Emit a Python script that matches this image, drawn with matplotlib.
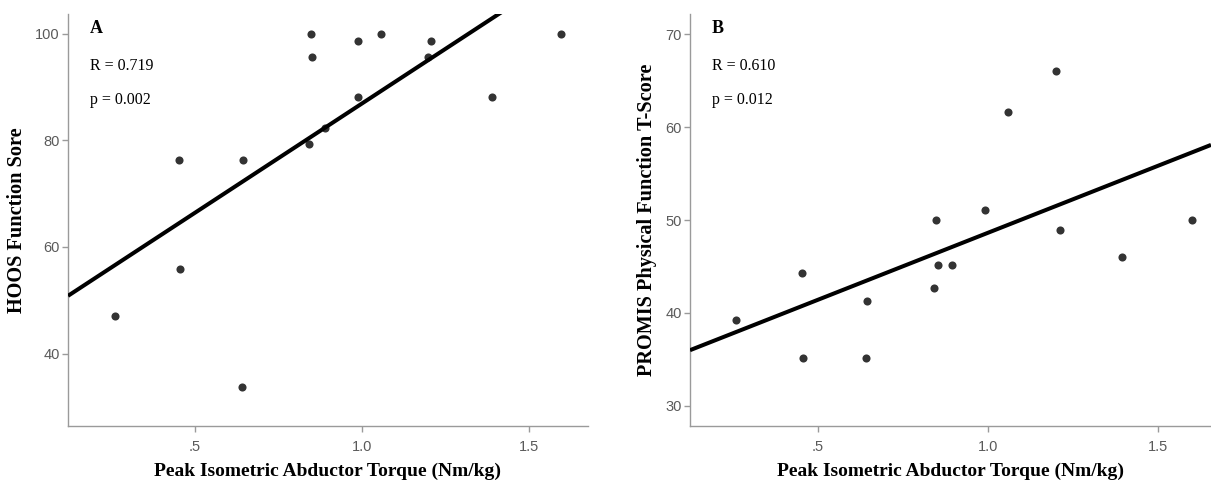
import matplotlib
matplotlib.use("Agg")
import matplotlib.pyplot as plt
import numpy as np

# ---- data ----
torque_a = [0.260, 0.452, 0.456, 0.645, 0.642, 0.847, 0.851, 0.841, 0.890,
            0.987, 0.988, 1.057, 1.208, 1.198, 1.391, 1.596]
hoos = [47.0, 76.4, 55.9, 76.4, 33.8, 100.0, 95.6, 79.3, 82.4,
        98.6, 88.2, 100.0, 98.6, 95.6, 88.2, 100.0]

torque_b = [0.259, 0.453, 0.456, 0.645, 0.642, 0.847, 0.852, 0.841, 0.893,
            0.990, 1.060, 1.200, 1.212, 1.393, 1.600]
promis = [39.2, 44.3, 35.1, 41.3, 35.1, 50.0, 45.2, 42.7, 45.2,
          51.1, 61.65, 66.1, 48.9, 46.05, 50.0]

fit_a = (41.0, 45.9)     # slope, intercept
fit_b = (14.44, 34.18)

x_ticks = [0.5, 1.0, 1.5]
x_tick_labels = [".5", "1.0", "1.5"]
y_ticks_a = [40, 60, 80, 100]
y_ticks_b = [30, 40, 50, 60, 70]

stats_a = ("A", "R = 0.719", "p = 0.002")
stats_b = ("B", "R = 0.610", "p = 0.012")
xlabel = "Peak Isometric Abductor Torque (Nm/kg)"
ylabel_a = "HOOS Function Sore"
ylabel_b = "PROMIS Physical Function T-Score"

W, H = 1211, 480
fig = plt.figure(figsize=(W / 100, H / 100), dpi=100)

def px_axes(l, r, t, b):
    return fig.add_axes([l / W, 1 - b / H, (r - l) / W, (b - t) / H])

tick_font = ["Liberation Sans Narrow", "Liberation Sans", "DejaVu Sans"]
serif = ["Liberation Serif", "DejaVu Serif"]
grey = "#9a9a9a"

def style(ax, xlim, ylim, yticks, stats, ylab, yl_x):
    ax.set_xlim(*xlim)
    ax.set_ylim(*ylim)
    for s in ["top", "right"]:
        ax.spines[s].set_visible(False)
    for s in ["left", "bottom"]:
        ax.spines[s].set_color(grey)
        ax.spines[s].set_linewidth(1.0)
    ax.set_xticks(x_ticks)
    ax.set_xticklabels(x_tick_labels)
    ax.set_yticks(yticks)
    ax.tick_params(axis="both", colors=grey, length=4, width=1.0,
                   labelcolor="#5a5a5a", labelsize=10.5)
    for lab in ax.get_xticklabels() + ax.get_yticklabels():
        lab.set_family(tick_font)
    ax.tick_params(axis="x", pad=6)
    ax.tick_params(axis="y", pad=2)
    ax.set_xlabel(xlabel, family=serif, fontweight="bold", fontsize=14, labelpad=6)
    ax.set_ylabel(ylab, family=serif, fontweight="bold", fontsize=14.6)
    ax.yaxis.set_label_coords(yl_x, 0.5)
    ax.text(0.042, 0.966, stats[0], transform=ax.transAxes, family=serif,
            fontweight="bold", fontsize=13, va="center", ha="left")
    ax.text(0.042, 0.874, stats[1], transform=ax.transAxes, family=serif,
            fontsize=11.5, va="center", ha="left")
    ax.text(0.042, 0.791, stats[2], transform=ax.transAxes, family=serif,
            fontsize=11.5, va="center", ha="left")

# Panel A
axA = px_axes(68, 588, 14, 426)
xa = np.array([0.120, 1.677])
axA.plot(xa, fit_a[0] * xa + fit_a[1], color="black", lw=2.9, zorder=3,
         solid_capstyle="butt")
axA.scatter(torque_a, hoos, s=34, color="#333333", zorder=2, linewidths=0)
style(axA, (0.120, 1.677), (26.4, 103.7), y_ticks_a, stats_a, ylabel_a, -0.079)

# Panel B
axB = px_axes(690, 1211, 14, 426)
xb = np.array([0.124, 1.656])
axB.plot(xb, fit_b[0] * xb + fit_b[1], color="black", lw=2.9, zorder=3,
         solid_capstyle="butt")
axB.scatter(torque_b, promis, s=34, color="#333333", zorder=2, linewidths=0)
style(axB, (0.124, 1.656), (27.8, 72.2), y_ticks_b, stats_b, ylabel_b, -0.063)

fig.savefig("out.png", dpi=100)
